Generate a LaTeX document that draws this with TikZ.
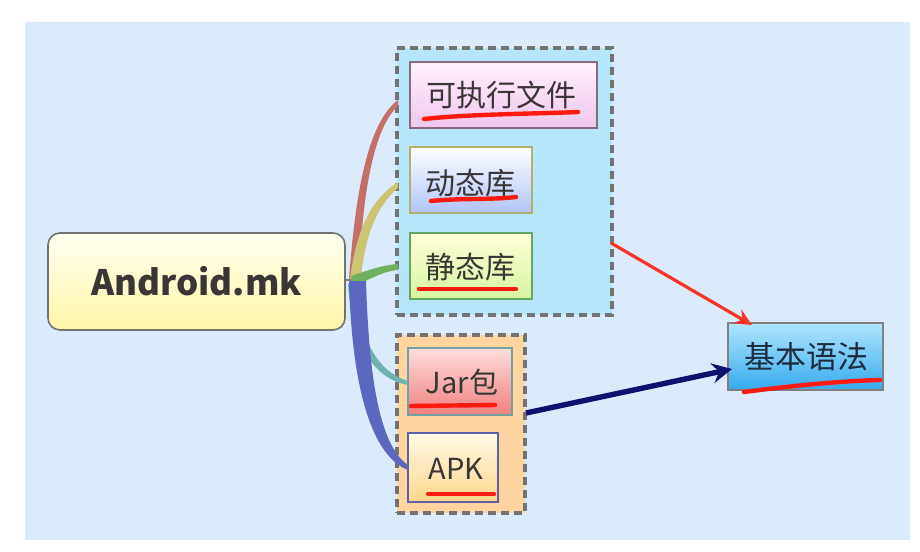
\documentclass[tikz,border=0pt]{standalone}
\usepackage{fontspec}
\setmainfont{Noto Sans CJK SC}
\usetikzlibrary{arrows.meta}
\definecolor{bgblue}{HTML}{DCEBFB}
\definecolor{grpcyan}{HTML}{B6E6FA}
\definecolor{grporange}{HTML}{FFD49E}
\definecolor{dashgray}{HTML}{737373}
\definecolor{txt}{HTML}{3A3636}
\definecolor{ulred}{HTML}{FF1A10}
\definecolor{exeb}{HTML}{8A6A7A}
\definecolor{exet}{HTML}{FFF2FC}
\definecolor{exeg}{HTML}{F0C6EE}
\definecolor{dynb}{HTML}{B0B070}
\definecolor{dyng}{HTML}{B0C4F8}
\definecolor{stab}{HTML}{60A860}
\definecolor{stat}{HTML}{FFFFD7}
\definecolor{stag}{HTML}{D6F6A0}
\definecolor{jarb}{HTML}{70A0A0}
\definecolor{jart}{HTML}{FFDCDC}
\definecolor{jarg}{HTML}{F08080}
\definecolor{apkb}{HTML}{6060A8}
\definecolor{apkt}{HTML}{FFFAE6}
\definecolor{apkg}{HTML}{FFD68C}
\definecolor{synt}{HTML}{B0E6FF}
\definecolor{syng}{HTML}{38AAEE}
\definecolor{syntext}{HTML}{1C2C40}
\definecolor{roott}{HTML}{FFFFF0}
\definecolor{rootg}{HTML}{FFF6A8}
\definecolor{brA}{HTML}{C47068}
\definecolor{brB}{HTML}{CCC470}
\definecolor{brC}{HTML}{70B060}
\definecolor{brD}{HTML}{70B2B0}
\definecolor{brE}{HTML}{5C68C0}
\definecolor{arred}{HTML}{FA3228}
\definecolor{arnavy}{HTML}{0E126E}
\tikzset{
  mbox/.style={draw, line width=1.6pt, inner sep=0pt},
  lbl/.style={text=txt, font=\fontsize{30}{31}\selectfont, inner sep=0pt},
  grp/.style={draw=dashgray, line width=3.4pt, dash pattern=on 8pt off 5pt, inner sep=0pt},
  uline/.style={draw=ulred, line width=4.4pt, line cap=round},
}
\begin{document}
\begin{tikzpicture}[x=1pt,y=-1pt]
\useasboundingbox (0,0) rectangle (920,551);
\fill[white] (0,0) rectangle (920,551);
\fill[bgblue] (25,22) rectangle (910,540);

% groups
\node[grp, fill=grpcyan, minimum width=215pt, minimum height=267pt] (g1) at (504.5,181.5) {};
\node[grp, fill=grporange, minimum width=128pt, minimum height=178pt] (g2) at (461,424) {};

% central topic
\node[draw=black!55, line width=1.6pt, rounded corners=12pt, top color=roott, bottom color=rootg,
      minimum width=297pt, minimum height=97pt, inner sep=0pt, text=txt,
      font=\bfseries\fontsize{35}{36}\selectfont] (root) at (196.5,281.5) {Android.mk};

% child boxes
\node[mbox, draw=exeb, top color=exet, bottom color=exeg, minimum width=187pt, minimum height=66pt] (exe) at (503.5,95) {};
\node[mbox, draw=dynb, top color=white, bottom color=dyng, minimum width=122pt, minimum height=66pt] (dyn) at (471,180) {};
\node[mbox, draw=stab, top color=stat, bottom color=stag, minimum width=122pt, minimum height=66pt] (sta) at (471,266) {};
\node[mbox, draw=jarb, top color=jart, bottom color=jarg, minimum width=104pt, minimum height=67pt] (jar) at (460,381.5) {};
\node[mbox, draw=apkb, top color=apkt, bottom color=apkg, minimum width=90pt, minimum height=69pt] (apk) at (453,467.5) {};
\node[mbox, draw=black!50, top color=synt, bottom color=syng, minimum width=155pt, minimum height=67pt] (syn) at (805.5,356.5) {};

% labels
\node[lbl] (exel) at (501,95) {可执行文件};
\node[lbl] (dynl) at (470,183) {动态库};
\node[lbl] (stal) at (470,267) {静态库};
\node[lbl, font=\fontsize{29}{30}\selectfont] (jarl) at (462,382) {Jar包};
\node[lbl, font=\fontsize{29}{30}\selectfont] (apkl) at (456,469) {APK};
\node[lbl, text=syntext, font=\fontsize{31}{32}\selectfont] (synl) at (806,357) {基本语法};

% branches
\coordinate (r) at (352,280);
\draw[black!50, line width=1.4pt] (root.east |- r) -- (r);
\fill[brA] (349,279) .. controls (355,200) and (366,124) .. (398,100)
   -- (398,106) .. controls (372,130) and (362,200) .. (359,279) -- cycle;
\fill[brB] (350,279) .. controls (356,232) and (370,200) .. (398,182)
   -- (398,188) .. controls (376,206) and (364,240) .. (361,279) -- cycle;
\fill[brC] (351,276) .. controls (366,271) and (382,265) .. (398,264)
   -- (398,270) .. controls (382,271) and (368,281) .. (353,286) -- cycle;
\fill[brD] (354,282) .. controls (359,340) and (378,372) .. (408,381)
   -- (408,385) .. controls (374,379) and (352,345) .. (348,284) -- cycle;
\fill[brE] (349,281) .. controls (352,390) and (372,456) .. (408,470)
   -- (408,465) .. controls (380,446) and (369,380) .. (366,281) -- cycle;

% underlines
\draw[uline] (424,119) .. controls (470,114) and (530,114) .. (578,112);
\draw[uline] (431,201) .. controls (460,198) and (490,200) .. (516,197);
\draw[uline] (419,289) -- (516,289);
\draw[uline] (411,406) -- (495,405);
\draw[uline] (428,494) -- (494,494);
\draw[uline] (744,392) .. controls (790,386) and (840,381) .. (880,380);

% arrows
\coordinate (a1) at (611,243);
\coordinate (a1e) at (752,325);
\draw[arred, line width=3.2pt, -{Stealth[length=17pt,width=16pt,inset=6pt]}] (a1) -- (a1e);
\coordinate (a2) at (526,413);
\coordinate (a2e) at (732,369);
\draw[arnavy, line width=5.4pt, -{Stealth[length=20pt,width=20pt,inset=7pt]}] (a2) -- (a2e);
\end{tikzpicture}
\end{document}
